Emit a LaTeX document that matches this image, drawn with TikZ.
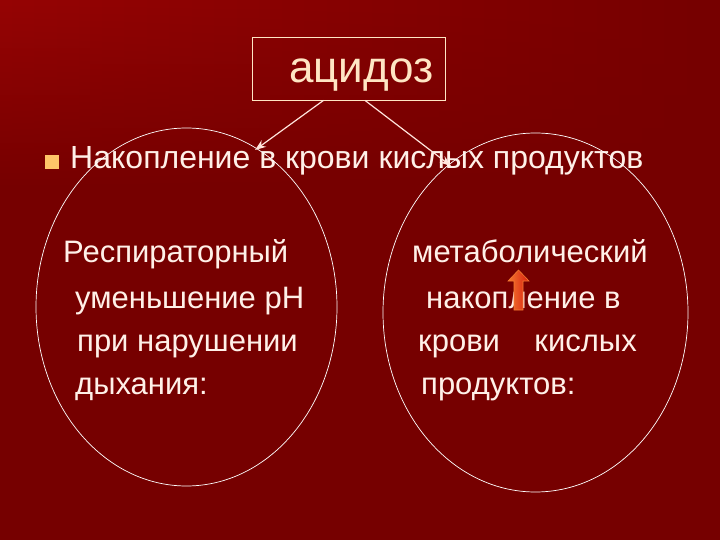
\documentclass[tikz,border=0pt]{standalone}
\usepackage{fontspec}
\setmainfont{Liberation Sans}
\usetikzlibrary{arrows.meta,fadings,shapes.geometric}
\definecolor{bgdark}{HTML}{760000}
\definecolor{bgtop}{HTML}{960404}
\definecolor{txt}{HTML}{FFF0E8}
\definecolor{titletxt}{HTML}{FFE6C4}
\definecolor{bul}{HTML}{FFC468}
\definecolor{lineC}{HTML}{FFE4DC}
\definecolor{arrL}{HTML}{F47A30}
\definecolor{arrR}{HTML}{D81E10}
\tikzfading[name=fadedown, top color=transparent!0, bottom color=transparent!100]
\begin{document}
\begin{tikzpicture}[x=1pt,y=-1pt,
  body/.style={text=txt, font=\fontsize{31}{36}\selectfont, anchor=base west, inner sep=0pt},
  ring/.style={draw=white, line width=0.7pt, ellipse, inner sep=0pt},
  link/.style={draw=lineC, line width=1.2pt, -{Stealth[length=11pt,width=8pt]}}]
\useasboundingbox (0,0) rectangle (720,540);
\fill[bgdark] (0,0) rectangle (720,540);
\shade[left color=bgtop, right color=bgdark, path fading=fadedown] (0,0) rectangle (720,190);

% title box
\node[draw=titletxt, line width=0.8pt, minimum width=193pt, minimum height=63pt, inner sep=0pt] (title) at (348.5,68.5) {};
\node[text=titletxt, font=\fontsize{44}{50}\selectfont, anchor=base west, inner sep=0pt] (titletext) at (289,83) {ацидоз};

% bullet line
\node[fill=bul, minimum size=14pt, inner sep=0pt] (bullet) at (52,162) {};
\node[body, font=\fontsize{32}{38}\selectfont] (lead) at (70,169) {Накопление в крови кислых продуктов};

% circles
\node[ring, minimum width=301pt, minimum height=358pt] (circL) at (186.5,307) {};
\node[ring, minimum width=305pt, minimum height=359pt] (circR) at (535.5,312.5) {};

% left text
\node[body] (l1) at (63,262) {Респираторный};
\node[body] (l2) at (75,308) {уменьшение рН};
\node[body] (l3) at (77,351) {при нарушении};
\node[body] (l4) at (75,394) {дыхания:};

% right text
\node[body] (r1) at (412,262) {метаболический};
\node[body] (r2) at (426,308) {накопление в};
\node[body] (r3) at (418,351) {крови\ \ \ \ кислых};
\node[body] (r4) at (421,394) {продуктов:};

% connectors
\coordinate (tipL) at (255,150);
\coordinate (tipR) at (451,166);
\draw[link] ([xshift=-25pt]title.south) -- (tipL);
\draw[link] ([xshift=16.5pt]title.south) -- (tipR);

% orange up arrow
\path[draw=arrL, line width=0.6pt, left color=arrL, right color=arrR]
  (514,310) -- (514,281) -- (508,281) -- (518.5,270) -- (529,281) -- (523,281) -- (523,310) -- cycle;
\end{tikzpicture}
\end{document}
